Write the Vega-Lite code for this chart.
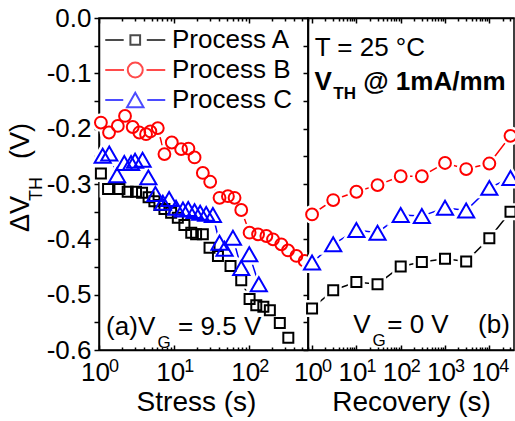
{
  "$schema": "https://vega.github.io/schema/vega-lite/v6.json",
  "padding": {"left": 6, "top": 4, "right": 0, "bottom": 0},
  "background": "white",
  "spacing": 0,
  "bounds": "flush",
  "config": {
    "font": "Liberation Sans",
    "view": {"stroke": "black", "strokeWidth": 1.5},
    "axis": {"domainColor": "black", "domainWidth": 1.5, "tickColor": "black", "tickWidth": 1.5, "labelColor": "black", "titleColor": "black", "labelFont": "Liberation Sans", "titleFont": "Liberation Sans", "grid": false, "labelOverlap": false, "labelFlush": false}
  },
  "datasets": {
    "stress": [
      {"series":"Process A","t":1.06,"v":-0.281},{"series":"Process A","t":1.32,"v":-0.309},{"series":"Process A","t":1.87,"v":-0.309},{"series":"Process A","t":2.41,"v":-0.314},{"series":"Process A","t":3.11,"v":-0.314},{"series":"Process A","t":3.74,"v":-0.316},{"series":"Process A","t":4.57,"v":-0.324},{"series":"Process A","t":5.46,"v":-0.331},{"series":"Process A","t":6.37,"v":-0.338},{"series":"Process A","t":7.43,"v":-0.345},{"series":"Process A","t":9.12,"v":-0.352},{"series":"Process A","t":11.2,"v":-0.361},{"series":"Process A","t":13.7,"v":-0.374},{"series":"Process A","t":16.9,"v":-0.388},{"series":"Process A","t":19.6,"v":-0.391},{"series":"Process A","t":24.1,"v":-0.391},{"series":"Process A","t":29.6,"v":-0.415},{"series":"Process A","t":38.3,"v":-0.430},{"series":"Process A","t":56.3,"v":-0.448},{"series":"Process A","t":78.2,"v":-0.474},{"series":"Process A","t":101,"v":-0.508},{"series":"Process A","t":124,"v":-0.519},{"series":"Process A","t":154,"v":-0.522},{"series":"Process A","t":188,"v":-0.528},{"series":"Process A","t":255,"v":-0.551},{"series":"Process A","t":331,"v":-0.578},
      {"series":"Process B","t":1.06,"v":-0.189},{"series":"Process B","t":1.36,"v":-0.207},{"series":"Process B","t":1.78,"v":-0.195},{"series":"Process B","t":2.22,"v":-0.177},{"series":"Process B","t":2.81,"v":-0.197},{"series":"Process B","t":3.44,"v":-0.207},{"series":"Process B","t":4.23,"v":-0.210},{"series":"Process B","t":4.83,"v":-0.205},{"series":"Process B","t":6.06,"v":-0.199},{"series":"Process B","t":7.43,"v":-0.246},{"series":"Process B","t":9.31,"v":-0.225},{"series":"Process B","t":12.4,"v":-0.237},{"series":"Process B","t":15.5,"v":-0.236},{"series":"Process B","t":18.7,"v":-0.252},{"series":"Process B","t":24.1,"v":-0.280},{"series":"Process B","t":30.2,"v":-0.296},{"series":"Process B","t":40.2,"v":-0.325},{"series":"Process B","t":52,"v":-0.322},{"series":"Process B","t":63.7,"v":-0.325},{"series":"Process B","t":78.2,"v":-0.347},{"series":"Process B","t":101,"v":-0.388},{"series":"Process B","t":131,"v":-0.391},{"series":"Process B","t":169,"v":-0.394},{"series":"Process B","t":207,"v":-0.400},{"series":"Process B","t":267,"v":-0.409},{"series":"Process B","t":328,"v":-0.420},{"series":"Process B","t":424,"v":-0.430},{"series":"Process B","t":546,"v":-0.439},
      {"series":"Process C","t":1.12,"v":-0.249},{"series":"Process C","t":1.37,"v":-0.245},{"series":"Process C","t":1.74,"v":-0.284},{"series":"Process C","t":2.17,"v":-0.262},{"series":"Process C","t":2.67,"v":-0.262},{"series":"Process C","t":3.02,"v":-0.258},{"series":"Process C","t":3.80,"v":-0.256},{"series":"Process C","t":4.54,"v":-0.288},{"series":"Process C","t":5.63,"v":-0.318},{"series":"Process C","t":7.07,"v":-0.334},{"series":"Process C","t":8.58,"v":-0.327},{"series":"Process C","t":10.6,"v":-0.343},{"series":"Process C","t":13.1,"v":-0.346},{"series":"Process C","t":15.4,"v":-0.345},{"series":"Process C","t":18.7,"v":-0.349},{"series":"Process C","t":22.2,"v":-0.352},{"series":"Process C","t":26.7,"v":-0.354},{"series":"Process C","t":32.8,"v":-0.356},{"series":"Process C","t":40.2,"v":-0.406},{"series":"Process C","t":46.9,"v":-0.417},{"series":"Process C","t":60.6,"v":-0.397},{"series":"Process C","t":78.2,"v":-0.452},{"series":"Process C","t":100,"v":-0.427},{"series":"Process C","t":134,"v":-0.481}
    ],
    "recovery": [
      {"series":"Process A","t":1,"v":-0.525},{"series":"Process A","t":3,"v":-0.492},{"series":"Process A","t":10,"v":-0.477},{"series":"Process A","t":30,"v":-0.481},{"series":"Process A","t":100,"v":-0.449},{"series":"Process A","t":300,"v":-0.441},{"series":"Process A","t":1000,"v":-0.435},{"series":"Process A","t":3000,"v":-0.440},{"series":"Process A","t":10000,"v":-0.398},{"series":"Process A","t":30000,"v":-0.350},
      {"series":"Process B","t":1,"v":-0.355},{"series":"Process B","t":3,"v":-0.329},{"series":"Process B","t":10,"v":-0.314},{"series":"Process B","t":30,"v":-0.302},{"series":"Process B","t":100,"v":-0.286},{"series":"Process B","t":300,"v":-0.286},{"series":"Process B","t":1000,"v":-0.262},{"series":"Process B","t":3000,"v":-0.273},{"series":"Process B","t":10000,"v":-0.263},{"series":"Process B","t":30000,"v":-0.213},
      {"series":"Process C","t":1,"v":-0.442},{"series":"Process C","t":3,"v":-0.409},{"series":"Process C","t":10,"v":-0.383},{"series":"Process C","t":30,"v":-0.388},{"series":"Process C","t":100,"v":-0.356},{"series":"Process C","t":300,"v":-0.358},{"series":"Process C","t":1000,"v":-0.343},{"series":"Process C","t":3000,"v":-0.348},{"series":"Process C","t":10000,"v":-0.307},{"series":"Process C","t":30000,"v":-0.289}
    ]
  },
  "hconcat": [
    {
      "width": 209,
      "height": 332,
      "resolve": {"axis": {"x": "independent", "y": "independent"}},
      "layer": [
        {
          "data": {"name": "stress"},
          "mark": {"type": "line", "strokeWidth": 1.5},
          "encoding": {
            "x": {"field": "t", "type": "quantitative", "scale": {"type": "log", "domain": [1, 605], "nice": false},
                  "axis": {"orient": "top", "values": [1,2,3,4,5,6,7,8,9,10,20,30,40,50,60,70,80,90,100,200,300,400,500,600], "labels": false, "title": null,
                           "tickSize": {"condition": {"test": "datum.value == 1 || datum.value == 10 || datum.value == 100", "value": -5}, "value": -3}}},
            "y": {"field": "v", "type": "quantitative", "scale": {"domain": [-0.6, 0], "nice": false}, "axis": null},
            "detail": {"field": "series", "type": "nominal"},
            "color": {"condition": [{"test": "datum.series === 'Process A'", "value": "#000000"}, {"test": "datum.series === 'Process B'", "value": "#ff0000"}], "value": "#0000ff"}
          }
        },
        {
          "data": {"name": "stress"},
          "mark": {"type": "point", "filled": true, "fill": "white", "stroke": "white", "strokeWidth": 7, "opacity": 1},
          "encoding": {
            "x": {"field": "t", "type": "quantitative", "axis": null},
            "y": {"field": "v", "type": "quantitative", "axis": null},
            "shape": {"condition": [{"test": "datum.series === 'Process A'", "value": "square"}, {"test": "datum.series === 'Process C'", "value": "triangle-up"}], "value": "circle"},
            "size": {"condition": [{"test": "datum.series === 'Process A'", "value": 100}, {"test": "datum.series === 'Process C'", "value": 260}], "value": 140}
          }
        },
        {
          "data": {"name": "stress"},
          "mark": {"type": "point", "filled": false, "strokeWidth": 2, "opacity": 1},
          "encoding": {
            "x": {"field": "t", "type": "quantitative",
                  "axis": {"orient": "bottom", "values": [1,2,3,4,5,6,7,8,9,10,20,30,40,50,60,70,80,90,100,200,300,400,500,600],
                           "labelExpr": "datum.value == 1 || datum.value == 10 || datum.value == 100 ? '10' : ''",
                           "labelOffset": -4,
                           "tickSize": {"condition": {"test": "datum.value == 1 || datum.value == 10 || datum.value == 100", "value": -5}, "value": -3},
                           "labelFontSize": 26, "labelPadding": 14, "title": "Stress (s)", "titleFontSize": 28, "titleFontWeight": "normal", "titlePadding": 1, "titleX": 97}},
            "y": {"field": "v", "type": "quantitative",
                  "axis": {"orient": "left", "values": [-0.6,-0.55,-0.5,-0.45,-0.4,-0.35,-0.3,-0.25,-0.2,-0.15,-0.1,-0.05,0],
                           "labelExpr": "abs(datum.value * 10 - round(datum.value * 10)) < 0.01 ? ((datum.value < -0.001 ? '-' : '') + format(abs(datum.value), '.1f')) : ''",
                           "tickSize": 5, "labelFontSize": 26, "labelPadding": 3, "title": null}},
            "color": {"condition": [{"test": "datum.series === 'Process A'", "value": "#000000"}, {"test": "datum.series === 'Process B'", "value": "#ff0000"}], "value": "#0000ff"},
            "shape": {"condition": [{"test": "datum.series === 'Process A'", "value": "square"}, {"test": "datum.series === 'Process C'", "value": "triangle-up"}], "value": "circle"},
            "size": {"condition": [{"test": "datum.series === 'Process A'", "value": 100}, {"test": "datum.series === 'Process C'", "value": 260}], "value": 140}
          }
        },
        {
          "data": {"name": "stress"},
          "transform": [{"filter": "false"}],
          "mark": {"type": "point", "filled": false, "strokeWidth": 2},
          "encoding": {
            "x": {"field": "t", "type": "quantitative", "axis": null},
            "y": {"field": "v", "type": "quantitative", "axis": null},
            "color": {"field": "series", "type": "nominal", "scale": {"domain": ["Process A", "Process B", "Process C"], "range": ["#000000", "#ff0000", "#0000ff"]},
                      "legend": {"orient": "top-left", "offset": 6, "title": null, "padding": 0, "labelFont": "Liberation Sans", "labelFontSize": 26, "labelColor": "black",
                                 "symbolSize": 900, "symbolStrokeWidth": 2, "labelOffset": 35, "rowPadding": 1}},
            "shape": {"field": "series", "type": "nominal",
                      "scale": {"domain": ["Process A", "Process B", "Process C"],
                                "range": ["M-1.05,0H0.18M1.72,0H2.95M0.627,-0.323H1.273V0.323H0.627Z",
                                          "M-1.05,0H0.2M1.7,0H2.95M0.45,0A0.5,0.5,0,1,1,1.45,0A0.5,0.5,0,1,1,0.45,0Z",
                                          "M-1.05,0H0.15M1.75,0H2.95M0.4,0.476L1.5,0.476L0.95,-0.476Z"]}}
          }
        },
        {"data": {"values": [{"t": 1, "e": "0"}, {"t": 10, "e": "1"}, {"t": 100, "e": "2"}]},
         "mark": {"type": "text", "align": "left", "baseline": "alphabetic", "dx": 10, "fontSize": 18, "font": "Liberation Sans", "color": "black"},
         "encoding": {"x": {"field": "t", "type": "quantitative", "axis": null}, "y": {"datum": -0.6398, "type": "quantitative", "axis": null}, "text": {"field": "e"}}},
        {"data": {"values": [{}]}, "mark": {"type": "text", "text": "ΔV", "angle": 270, "align": "left", "baseline": "alphabetic", "fontSize": 27, "font": "Liberation Sans", "color": "black"},
         "encoding": {"x": {"datum": 0.1166, "type": "quantitative", "axis": null}, "y": {"datum": -0.3868, "type": "quantitative", "axis": null}}},
        {"data": {"values": [{}]}, "mark": {"type": "text", "text": "TH", "angle": 270, "align": "left", "baseline": "alphabetic", "fontSize": 18, "font": "Liberation Sans", "color": "black"},
         "encoding": {"x": {"datum": 0.1738, "type": "quantitative", "axis": null}, "y": {"datum": -0.3307, "type": "quantitative", "axis": null}}},
        {"data": {"values": [{}]}, "mark": {"type": "text", "text": "(V)", "angle": 270, "align": "left", "baseline": "alphabetic", "fontSize": 27, "font": "Liberation Sans", "color": "black"},
         "encoding": {"x": {"datum": 0.1166, "type": "quantitative", "axis": null}, "y": {"datum": -0.2548, "type": "quantitative", "axis": null}}},
        {"data": {"values": [{}]}, "mark": {"type": "text", "text": "(a)", "align": "left", "baseline": "alphabetic", "fontSize": 26, "font": "Liberation Sans", "color": "black"},
         "encoding": {"x": {"datum": 1.24, "type": "quantitative", "axis": null}, "y": {"datum": -0.573, "type": "quantitative", "axis": null}}},
        {"data": {"values": [{}]}, "mark": {"type": "text", "text": "V", "align": "left", "baseline": "alphabetic", "fontSize": 26, "font": "Liberation Sans", "color": "black"},
         "encoding": {"x": {"datum": 3.3, "type": "quantitative", "axis": null}, "y": {"datum": -0.573, "type": "quantitative", "axis": null}}},
        {"data": {"values": [{}]}, "mark": {"type": "text", "text": "G", "align": "left", "baseline": "alphabetic", "fontSize": 17, "font": "Liberation Sans", "color": "black"},
         "encoding": {"x": {"datum": 6.0, "type": "quantitative", "axis": null}, "y": {"datum": -0.596, "type": "quantitative", "axis": null}}},
        {"data": {"values": [{}]}, "mark": {"type": "text", "text": "= 9.5 V", "align": "left", "baseline": "alphabetic", "fontSize": 26, "font": "Liberation Sans", "color": "black"},
         "encoding": {"x": {"datum": 11.3, "type": "quantitative", "axis": null}, "y": {"datum": -0.573, "type": "quantitative", "axis": null}}}
      ]
    },
    {
      "width": 206,
      "height": 332,
      "resolve": {"axis": {"x": "independent", "y": "independent"}},
      "layer": [
        {
          "data": {"name": "recovery"},
          "mark": {"type": "line", "strokeWidth": 1.5},
          "encoding": {
            "x": {"field": "t", "type": "quantitative", "scale": {"type": "log", "domain": [0.81, 36000], "nice": false},
                  "axis": {"orient": "top", "values": [1,2,3,4,5,6,7,8,9,10,20,30,40,50,60,70,80,90,100,200,300,400,500,600,700,800,900,1000,2000,3000,4000,5000,6000,7000,8000,9000,10000,20000,30000], "labels": false, "title": null,
                           "tickSize": {"condition": {"test": "datum.value == 1 || datum.value == 10 || datum.value == 100 || datum.value == 1000 || datum.value == 10000", "value": -5}, "value": -3}}},
            "y": {"field": "v", "type": "quantitative", "scale": {"domain": [-0.6, 0], "nice": false}, "axis": null},
            "detail": {"field": "series", "type": "nominal"},
            "color": {"condition": [{"test": "datum.series === 'Process A'", "value": "#000000"}, {"test": "datum.series === 'Process B'", "value": "#ff0000"}], "value": "#0000ff"}
          }
        },
        {
          "data": {"name": "recovery"},
          "mark": {"type": "point", "filled": true, "fill": "white", "stroke": "white", "strokeWidth": 7, "opacity": 1},
          "encoding": {
            "x": {"field": "t", "type": "quantitative", "axis": null},
            "y": {"field": "v", "type": "quantitative", "axis": null},
            "shape": {"condition": [{"test": "datum.series === 'Process A'", "value": "square"}, {"test": "datum.series === 'Process C'", "value": "triangle-up"}], "value": "circle"},
            "size": {"condition": [{"test": "datum.series === 'Process A'", "value": 100}, {"test": "datum.series === 'Process C'", "value": 260}], "value": 140}
          }
        },
        {
          "data": {"name": "recovery"},
          "mark": {"type": "point", "filled": false, "strokeWidth": 2, "opacity": 1},
          "encoding": {
            "x": {"field": "t", "type": "quantitative",
                  "axis": {"orient": "bottom", "values": [1,2,3,4,5,6,7,8,9,10,20,30,40,50,60,70,80,90,100,200,300,400,500,600,700,800,900,1000,2000,3000,4000,5000,6000,7000,8000,9000,10000,20000,30000],
                           "labelExpr": "datum.value == 1 || datum.value == 10 || datum.value == 100 || datum.value == 1000 || datum.value == 10000 ? '10' : ''",
                           "labelOffset": -4,
                           "tickSize": {"condition": {"test": "datum.value == 1 || datum.value == 10 || datum.value == 100 || datum.value == 1000 || datum.value == 10000", "value": -5}, "value": -3},
                           "labelFontSize": 26, "labelPadding": 14, "title": "Recovery (s)", "titleFontSize": 28, "titleFontWeight": "normal", "titlePadding": 1}},
            "y": {"field": "v", "type": "quantitative",
                  "axis": {"orient": "left", "values": [-0.6,-0.55,-0.5,-0.45,-0.4,-0.35,-0.3,-0.25,-0.2,-0.15,-0.1,-0.05,0], "labels": false, "tickSize": 5, "title": null}},
            "color": {"condition": [{"test": "datum.series === 'Process A'", "value": "#000000"}, {"test": "datum.series === 'Process B'", "value": "#ff0000"}], "value": "#0000ff"},
            "shape": {"condition": [{"test": "datum.series === 'Process A'", "value": "square"}, {"test": "datum.series === 'Process C'", "value": "triangle-up"}], "value": "circle"},
            "size": {"condition": [{"test": "datum.series === 'Process A'", "value": 100}, {"test": "datum.series === 'Process C'", "value": 260}], "value": 140}
          }
        },
        {"data": {"values": [{"t": 1, "e": "0"}, {"t": 10, "e": "1"}, {"t": 100, "e": "2"}, {"t": 1000, "e": "3"}, {"t": 10000, "e": "4"}]},
         "mark": {"type": "text", "align": "left", "baseline": "alphabetic", "dx": 10, "fontSize": 18, "font": "Liberation Sans", "color": "black"},
         "encoding": {"x": {"field": "t", "type": "quantitative", "axis": null}, "y": {"datum": -0.6398, "type": "quantitative", "axis": null}, "text": {"field": "e"}}},
        {"data": {"values": [{}]}, "mark": {"type": "text", "text": "V", "align": "left", "baseline": "alphabetic", "fontSize": 26, "font": "Liberation Sans", "color": "black"},
         "encoding": {"x": {"datum": 8.52, "type": "quantitative", "axis": null}, "y": {"datum": -0.569, "type": "quantitative", "axis": null}}},
        {"data": {"values": [{}]}, "mark": {"type": "text", "text": "G", "align": "left", "baseline": "alphabetic", "fontSize": 17, "font": "Liberation Sans", "color": "black"},
         "encoding": {"x": {"datum": 23.0, "type": "quantitative", "axis": null}, "y": {"datum": -0.593, "type": "quantitative", "axis": null}}},
        {"data": {"values": [{}]}, "mark": {"type": "text", "text": "= 0 V", "align": "left", "baseline": "alphabetic", "fontSize": 26, "font": "Liberation Sans", "color": "black"},
         "encoding": {"x": {"datum": 49.7, "type": "quantitative", "axis": null}, "y": {"datum": -0.569, "type": "quantitative", "axis": null}}},
        {"data": {"values": [{}]}, "mark": {"type": "text", "text": "(b)", "align": "left", "baseline": "alphabetic", "fontSize": 26, "font": "Liberation Sans", "color": "black"},
         "encoding": {"x": {"datum": 5560, "type": "quantitative", "axis": null}, "y": {"datum": -0.569, "type": "quantitative", "axis": null}}},
        {"data": {"values": [{}]}, "mark": {"type": "text", "text": "T = 25 °C", "align": "left", "baseline": "alphabetic", "fontSize": 26, "font": "Liberation Sans", "color": "black"},
         "encoding": {"x": {"datum": 1.144, "type": "quantitative", "axis": null}, "y": {"datum": -0.0687, "type": "quantitative", "axis": null}}},
        {"data": {"values": [{}]}, "mark": {"type": "text", "text": "V", "align": "left", "baseline": "alphabetic", "fontSize": 26, "fontWeight": "bold", "font": "Liberation Sans", "color": "black"},
         "encoding": {"x": {"datum": 1.13, "type": "quantitative", "axis": null}, "y": {"datum": -0.130, "type": "quantitative", "axis": null}}},
        {"data": {"values": [{}]}, "mark": {"type": "text", "text": "TH", "align": "left", "baseline": "alphabetic", "fontSize": 17, "fontWeight": "bold", "font": "Liberation Sans", "color": "black"},
         "encoding": {"x": {"datum": 3.02, "type": "quantitative", "axis": null}, "y": {"datum": -0.146, "type": "quantitative", "axis": null}}},
        {"data": {"values": [{}]}, "mark": {"type": "text", "text": "@ 1mA/mm", "align": "left", "baseline": "alphabetic", "fontSize": 26, "fontWeight": "bold", "font": "Liberation Sans", "color": "black"},
         "encoding": {"x": {"datum": 14.3, "type": "quantitative", "axis": null}, "y": {"datum": -0.130, "type": "quantitative", "axis": null}}}
      ]
    }
  ]
}
